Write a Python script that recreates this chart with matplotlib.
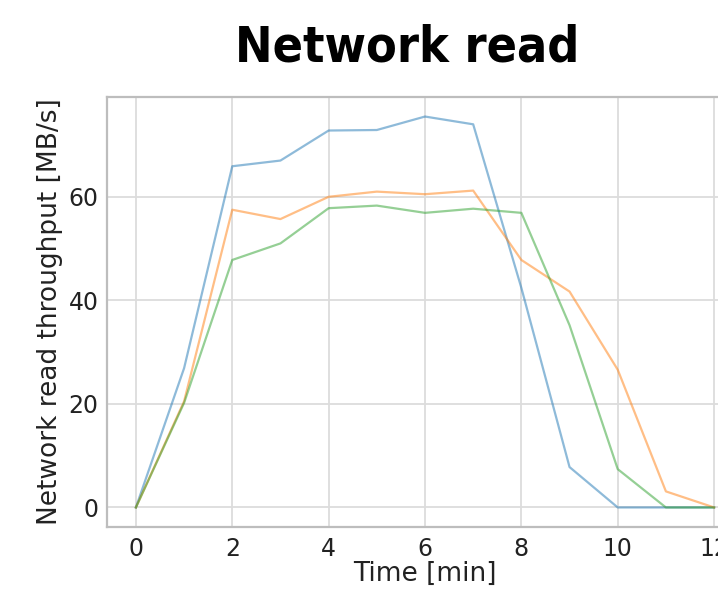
import numpy as np
import matplotlib
matplotlib.use("Agg")
import matplotlib.pyplot as plt

# minutes since start
minutes = [0, 1, 2, 3, 4, 5, 6, 7, 8, 9, 10, 11, 12]
# network read throughput in MB/s, one list per run
run_a = [0, 26.9, 65.9, 67.0, 72.8, 72.9, 75.5, 74.0, 42.4, 7.8, 0, 0, 0]
run_b = [0, 20.5, 57.5, 55.7, 60.0, 61.0, 60.5, 61.2, 47.8, 41.7, 26.6, 3.1, 0]
run_c = [0, 20.2, 47.8, 51.0, 57.8, 58.3, 56.9, 57.7, 56.9, 35.2, 7.4, 0, 0]

fig = plt.figure(figsize=(7.18, 5.92), dpi=100)
# the axes runs past the right edge, as in the cropped original
ax = fig.add_axes([107 / 718, 1 - 527 / 592, (743 - 107) / 718, (527 - 97) / 592])

for run, c in zip([run_a, run_b, run_c], ["tab:blue", "tab:orange", "tab:green"]):
    ax.plot(minutes, run, color=c, alpha=0.5, lw=1.6)

ax.set_xticks(range(0, 13, 2))
ax.set_yticks([0, 20, 40, 60])
ax.grid(True, color="#dcdcdc", lw=1.3)
ax.set_axisbelow(True)
for s in ax.spines.values():
    s.set_color("#bdbdbd")
    s.set_linewidth(1.6)
ax.tick_params(length=0, labelsize=17, colors="#222222")
ax.tick_params(axis="x", pad=7)
ax.tick_params(axis="y", pad=6)
ax.set_xlabel("Time [min]", fontsize=19, color="#222222", labelpad=0)
ax.set_ylabel("Network read throughput [MB/s]", fontsize=19, color="#222222", labelpad=4)

fig.text(407 / 718, 1 - 47 / 592, "Network read", ha="center", va="center",
         fontsize=36, fontweight="bold", fontstretch="condensed",
         family=["DejaVu Sans"])

fig.savefig("out.png", dpi=100)
